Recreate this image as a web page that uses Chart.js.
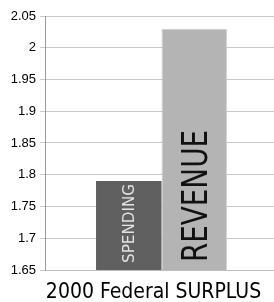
<!DOCTYPE html>
<html><head><meta charset="utf-8">
<script src="https://cdn.jsdelivr.net/npm/chart.js@4/dist/chart.umd.min.js"></script>
<style>html,body{margin:0;padding:0;background:#fff;overflow:hidden;width:274px;height:302px}#c{display:block}</style>
</head><body>
<canvas id="c" width="278" height="302"></canvas>
<script>
const categories = ['2000 Federal SURPLUS'];
const seriesNames = ['SPENDING', 'REVENUE'];
const spending = [1.79];
const revenue = [2.03];
const yTickLabels = ['1.65','1.7','1.75','1.8','1.85','1.9','1.95','2','2.05'];

const barLabels = {
  id: 'barLabels',
  afterDraw(chart) {
    const ctx = chart.ctx;
    const styles = [
      {font: '16px "DejaVu Sans Condensed", "DejaVu Sans", sans-serif', cap: 11.6, color: '#e2e2e2', pad: 7, len: 79, dx: -1},
      {font: '36px "DejaVu Sans Condensed", "DejaVu Sans", sans-serif', cap: 26, color: '#111111', pad: 8, len: 132, dx: 0}
    ];
    const baseY = chart.scales.y.getPixelForValue(chart.scales.y.min);
    chart.data.datasets.forEach((ds, i) => {
      const el = chart.getDatasetMeta(i).data[0];
      const p = el.getProps(['x'], true);
      const st = styles[i];
      ctx.save();
      ctx.font = st.font;
      const w = ctx.measureText(ds.label).width;
      ctx.translate(p.x + st.dx, baseY - st.pad);
      ctx.rotate(-Math.PI / 2);
      ctx.scale(st.len / w, 1);
      ctx.fillStyle = st.color;
      ctx.textAlign = 'left';
      ctx.textBaseline = 'alphabetic';
      ctx.fillText(ds.label, 0, st.cap / 2);
      ctx.restore();
    });
  }
};

new Chart(document.getElementById('c'), {
  type: 'bar',
  data: {
    labels: categories,
    datasets: [
      {label: seriesNames[0], data: spending, backgroundColor: '#606060', borderWidth: 0},
      {label: seriesNames[1], data: revenue, backgroundColor: '#b4b4b4', borderColor: '#d2d2d2', borderWidth: 1}
    ]
  },
  options: {
    responsive: false,
    animation: false,
    layout: {padding: {top: 16, right: 0, left: 0, bottom: 0}},
    plugins: {legend: {display: false}, tooltip: {enabled: false}},
    datasets: {bar: {categoryPercentage: 0.562, barPercentage: 1}},
    scales: {
      x: {
        grid: {display: false},
        border: {color: '#bdbdbd'},
        ticks: {color: '#000', font: {family: '"DejaVu Sans Condensed", "DejaVu Sans"', size: 21}, padding: 2, labelOffset: -8},
        afterFit(s) { s.height = 32; }
      },
      y: {
        min: 1.65, max: 2.05,
        ticks: {
          stepSize: 0.05,
          color: '#000',
          font: {family: '"Liberation Sans", sans-serif', size: 13},
          padding: 4,
          callback: (v, i) => yTickLabels[i]
        },
        grid: {color: '#c8c8c8', tickLength: 5},
        border: {color: '#9a9a9a'},
        afterFit(s) { s.width = 45; }
      }
    }
  },
  plugins: [barLabels]
});
</script>
</body></html>
